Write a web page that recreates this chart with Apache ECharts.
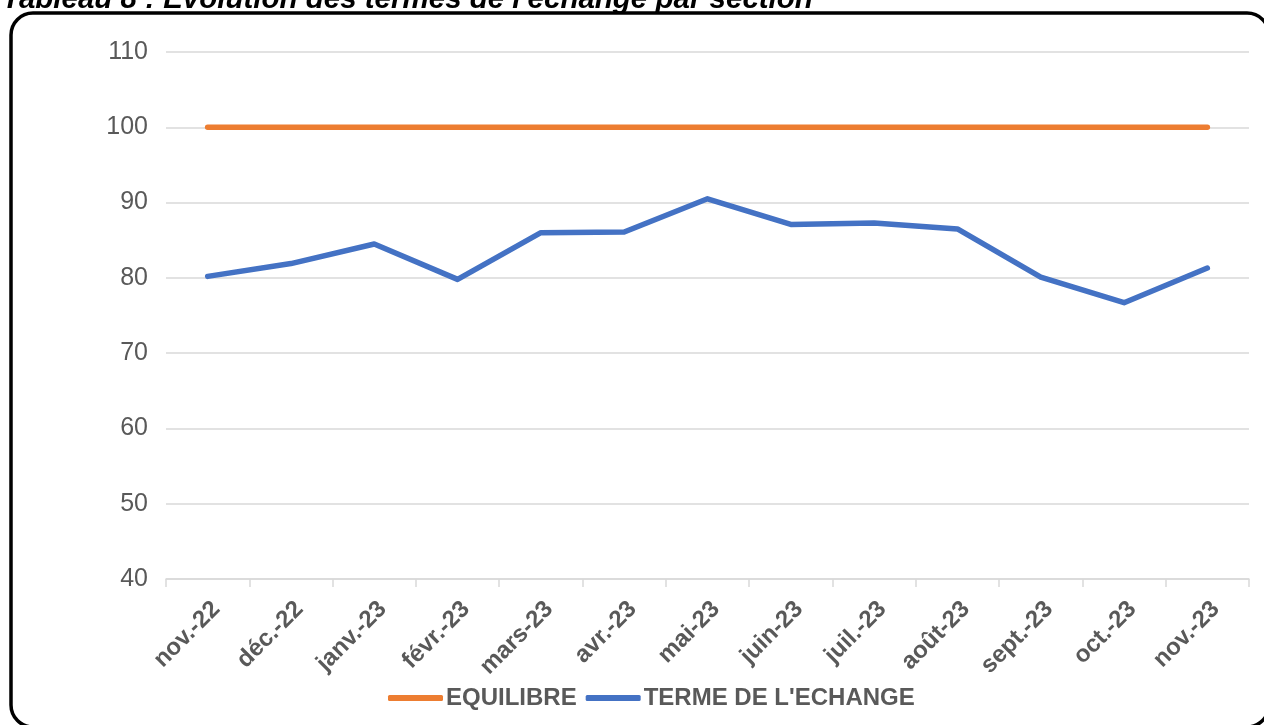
<!DOCTYPE html>
<html>
<head>
<meta charset="utf-8">
<script src="https://cdn.jsdelivr.net/npm/echarts@6/dist/echarts.min.js"></script>
<style>
html,body{margin:0;padding:0;background:#fff;}
#chart{width:1264px;height:725px;}
</style>
</head>
<body>
<div id="chart"></div>
<script>
const titleText = "Tableau 8 : Evolution des termes de l'échange par section";
const categories = ["nov.-22","déc.-22","janv.-23","févr.-23","mars-23","avr.-23","mai-23","juin-23","juil.-23","août-23","sept.-23","oct.-23","nov.-23"];
const seriesNames = ["EQUILIBRE","TERME DE L'ECHANGE"];
const equilibre = [100,100,100,100,100,100,100,100,100,100,100,100,100];
const termeEchange = [80.2,81.9,84.5,79.8,86.0,86.1,90.5,87.1,87.3,86.5,80.1,76.7,81.3];
const yMin = 40, yMax = 110, yStep = 10;

const FONT = "'Liberation Sans', Arial, sans-serif";
const chart = echarts.init(document.getElementById('chart'), null, {renderer:'canvas'});
chart.setOption({
  animation:false,
  backgroundColor:'#ffffff',
  textStyle:{fontFamily:FONT},
  graphic:[
    {type:'rect', shape:{x:11, y:13, width:1258, height:714, r:22},
     style:{fill:'none', stroke:'#000', lineWidth:3.5}, z:100},
    {type:'text', style:{text:titleText, x:2, y:15, verticalAlign:'bottom',
      font:"italic bold 29.5px 'Liberation Sans', Arial, sans-serif", fill:'#000'}, z:100}
  ],
  grid:{left:166, right:15, top:52, bottom:146, containLabel:false},
  legend:{
    left:383, top:681, itemWidth:55, itemHeight:6, itemGap:9,
    icon:'roundRect',
    data:seriesNames,
    textStyle:{fontFamily:FONT, fontSize:24, fontWeight:'bold', color:'#595959', padding:[0,0,0,-2]}
  },
  xAxis:{
    type:'category', data:categories, boundaryGap:true,
    axisLine:{lineStyle:{color:'#D9D9D9', width:1.5}},
    axisTick:{show:true, length:8, alignWithLabel:false, lineStyle:{color:'#D9D9D9', width:1.5}},
    axisLabel:{rotate:45, margin:18, verticalAlign:'top', fontFamily:FONT, fontSize:24, fontWeight:'bold', color:'#595959', interval:0}
  },
  yAxis:{
    type:'value', min:yMin, max:yMax, interval:yStep,
    axisLine:{show:false}, axisTick:{show:false},
    splitLine:{lineStyle:{color:'#D9D9D9', width:1.5}},
    axisLabel:{margin:18, fontFamily:FONT, fontSize:25, color:'#595959'}
  },
  series:[
    {name:seriesNames[0], type:'line', data:equilibre, symbol:'none',
     lineStyle:{color:'#ED7D31', width:5.5, cap:'round', join:'round'},
     itemStyle:{color:'#ED7D31'}},
    {name:seriesNames[1], type:'line', data:termeEchange, symbol:'none',
     lineStyle:{color:'#4472C4', width:5.5, cap:'round', join:'round'},
     itemStyle:{color:'#4472C4'}}
  ]
});
</script>
</body>
</html>
